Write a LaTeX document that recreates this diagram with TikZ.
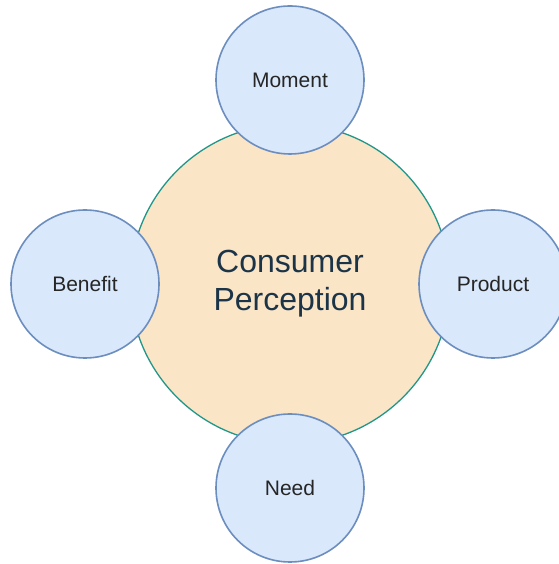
\documentclass[tikz,border=0pt]{standalone}
\usepackage{fontspec}
\setmainfont{Liberation Sans}
\definecolor{coreface}{RGB}{250, 229, 199}
\definecolor{coreline}{RGB}{32, 150, 136}
\definecolor{coretext}{RGB}{28, 52, 72}
\definecolor{petalface}{RGB}{218, 232, 252}
\definecolor{petalline}{RGB}{108, 142, 191}
\usetikzlibrary{positioning}

\begin{document}
\begin{tikzpicture}[x=1pt, y=1pt,
  petal/.style={circle, draw=petalline, fill=petalface, line width=1.6pt, minimum size=148pt, inner sep=0pt, font=\fontsize{21}{25}\selectfont, text=black!85}]
  \useasboundingbox (0,0) rectangle (558,564);
  \node[circle, draw=coreline, fill=coreface, line width=1.3pt, minimum size=320pt, inner sep=0pt, align=center, text=coretext, font=\fontsize{32}{38}\selectfont] (core) at (290,280) {Consumer\\Perception};
  \node[petal] (moment) at (290,484) {Moment};
  \node[petal] (product) at (493,280) {Product};
  \node[petal] (need) at (290,76) {Need};
  \node[petal] (benefit) at (85,280) {Benefit};
\end{tikzpicture}
\end{document}
